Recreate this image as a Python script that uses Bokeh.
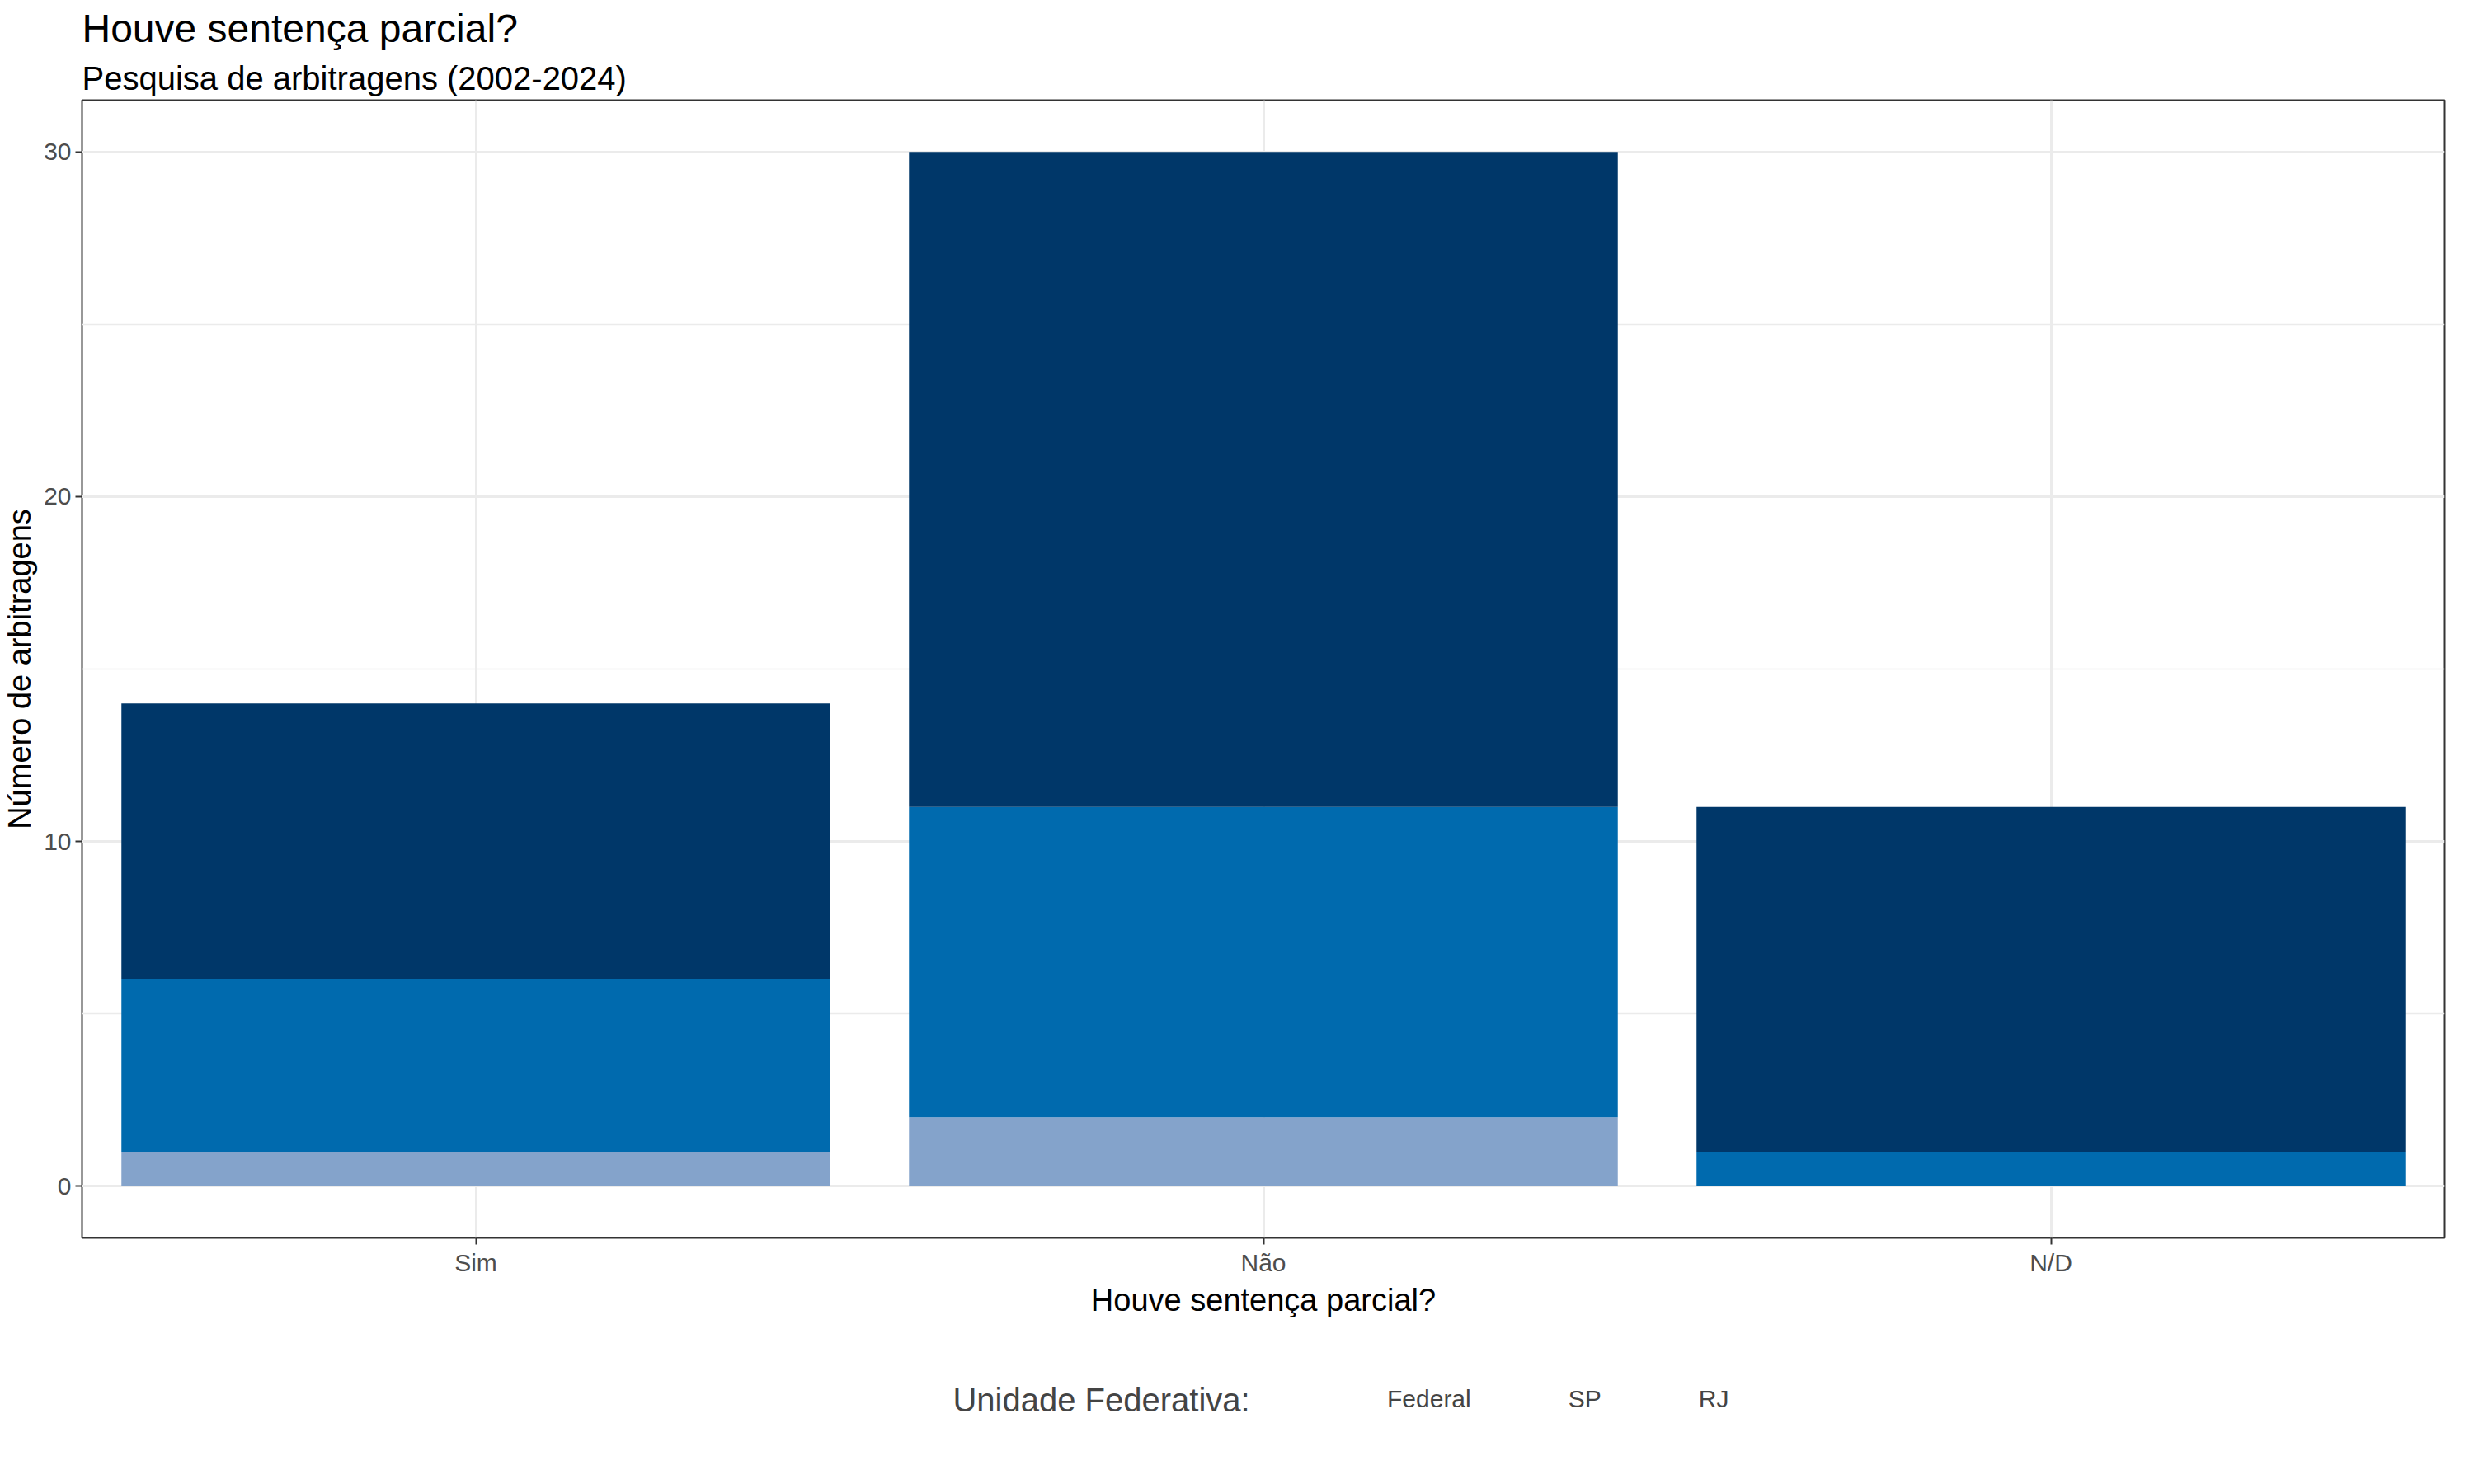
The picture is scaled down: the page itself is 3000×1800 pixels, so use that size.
from bokeh.plotting import figure
from bokeh.layouts import column
from bokeh.models import Legend, LegendItem, Title, Label, FixedTicker, Range1d
from bokeh.embed import file_html
from bokeh.resources import INLINE

categorias = ["Sim", "Não", "N/D"]
federal = [8, 19, 10]
sp = [5, 9, 1]
rj = [1, 2, 0]
grupos = ["rj", "sp", "federal"]
cores = ["#84a3cb", "#006aae", "#003769"]
nomes = ["RJ", "SP", "Federal"]

data = dict(x=categorias, rj=rj, sp=sp, federal=federal)

p = figure(x_range=categorias, y_range=Range1d(-1.5, 31.5), width=2984, height=1600,
           output_backend="svg", toolbar_location=None,
           min_border_left=30, min_border_right=20, min_border_top=15, min_border_bottom=10)

rs = p.vbar_stack(grupos, x="x", width=0.9, color=cores, source=data, line_width=0)

p.add_layout(Title(text="Pesquisa de arbitragens (2002-2024)", text_font_size="40px",
                   text_font="Liberation Sans", text_font_style="normal", text_color="black"), "above")
p.add_layout(Title(text="Houve sentença parcial?", text_font_size="48px",
                   text_font="Liberation Sans", text_font_style="normal", text_color="black"), "above")

p.outline_line_color = "#333333"
p.outline_line_width = 2
p.xgrid.grid_line_color = "#ebebeb"
p.xgrid.grid_line_width = 3
p.ygrid.grid_line_color = "#ebebeb"
p.ygrid.grid_line_width = 3
p.ygrid.minor_grid_line_color = "#ebebeb"
p.ygrid.minor_grid_line_width = 1.5
p.yaxis.ticker = FixedTicker(ticks=[0, 10, 20, 30], minor_ticks=[5, 15, 25])

for ax in (p.xaxis, p.yaxis):
    ax.axis_line_color = None
    ax.major_tick_line_color = "#333333"
    ax.major_tick_line_width = 2
    ax.major_tick_out = 8
    ax.major_tick_in = 0
    ax.minor_tick_line_color = None
    ax.major_label_text_font_size = "30px"
    ax.major_label_text_color = "#4d4d4d"
    ax.major_label_text_font = "Liberation Sans"
    ax.axis_label_text_font_size = "38px"
    ax.axis_label_text_font_style = "normal"
    ax.axis_label_text_font = "Liberation Sans"
    ax.axis_label_text_color = "black"
p.xaxis.axis_label = "Houve sentença parcial?"
p.yaxis.axis_label = "Número de arbitragens"

# legenda numa figura separada, com o título à esquerda
leg = figure(width=2984, height=170, x_range=Range1d(0, 2984), y_range=Range1d(0, 170),
             output_backend="svg", toolbar_location=None, min_border=0)
leg.axis.visible = False
leg.grid.visible = False
leg.outline_line_color = None
dummy = [leg.rect(x=[], y=[], width=1, height=1, color=c, line_width=0) for c in cores]

legend = Legend(items=[LegendItem(label=nomes[i], renderers=[dummy[i]]) for i in (2, 1, 0)],
                orientation="horizontal", location=(1495, 40),
                label_text_font_size="30px", label_text_font="Liberation Sans",
                glyph_width=66, glyph_height=66, spacing=30, label_standoff=22,
                border_line_color=None, background_fill_alpha=0, margin=0, padding=0)
leg.add_layout(legend, "center")
leg.add_layout(Label(x=1475, y=73, text="Unidade Federativa:", text_font_size="40px",
                     text_font="Liberation Sans", text_baseline="middle", text_align="right"))

open("out.html", "w").write(file_html(column(p, leg, spacing=0), INLINE))
